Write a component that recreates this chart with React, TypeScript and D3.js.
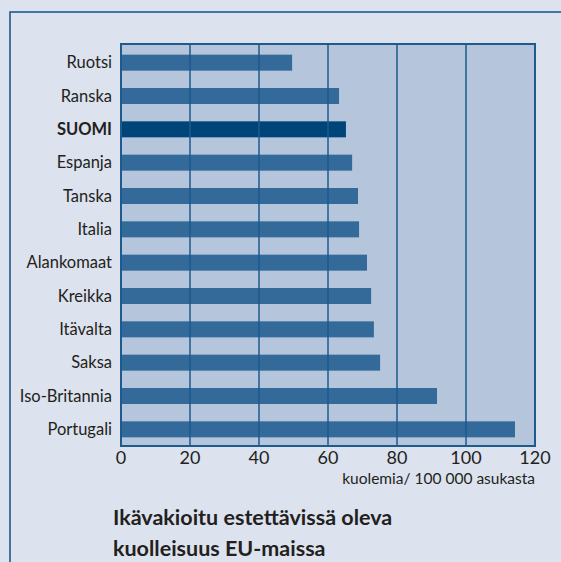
import { useEffect, useRef } from "react";
import * as d3 from "d3";

const countries = [
  "Ruotsi",
  "Ranska",
  "SUOMI",
  "Espanja",
  "Tanska",
  "Italia",
  "Alankomaat",
  "Kreikka",
  "Itävalta",
  "Saksa",
  "Iso-Britannia",
  "Portugali",
];
const rates = [49.6, 63.2, 65.2, 67, 68.7, 69, 71.3, 72.5, 73.3, 75.1, 91.6, 114.2];
const highlight = "SUOMI";
const xTicks = [0, 20, 40, 60, 80, 100, 120];
const unitLabel = "kuolemia/ 100 000 asukasta";
const titleLines = ["Ikävakioitu estettävissä oleva", "kuolleisuus EU-maissa"];

const W = 561;
const H = 562;
const FONT = "Lato, 'Open Sans', sans-serif";

export default function App() {
  const svgRef = useRef<SVGSVGElement>(null);

  useEffect(() => {
    const svg = d3.select(svgRef.current);
    svg.selectAll("*").remove();

    const plot = { left: 121, right: 535, top: 44, bottom: 446 };

    const x = d3.scaleLinear().domain([0, 120]).range([plot.left, plot.right]);
    const y = d3
      .scaleBand<string>()
      .domain(countries)
      .range([plot.top + 2, plot.bottom])
      .paddingInner(0.52)
      .paddingOuter(0.26);

    // page + frame
    svg.append("rect").attr("width", W).attr("height", H).attr("fill", "#dce2ee");
    svg
      .append("rect")
      .attr("x", 10)
      .attr("y", 12)
      .attr("width", W + 20)
      .attr("height", H + 20)
      .attr("fill", "none")
      .attr("stroke", "#1d5a8e")
      .attr("stroke-width", 1.6);

    // plot background
    svg
      .append("rect")
      .attr("x", plot.left)
      .attr("y", plot.top)
      .attr("width", plot.right - plot.left)
      .attr("height", plot.bottom - plot.top)
      .attr("fill", "#b5c5dc");

    // bars
    svg
      .append("g")
      .selectAll("rect")
      .data(countries)
      .enter()
      .append("rect")
      .attr("x", x(0))
      .attr("y", (d) => y(d) || 0)
      .attr("width", (_d, i) => x(rates[i]) - x(0))
      .attr("height", y.bandwidth())
      .attr("fill", (d) => (d === highlight ? "#00457a" : "#336a99"));

    // grid lines
    svg
      .append("g")
      .selectAll("line")
      .data(xTicks.slice(1, -1))
      .enter()
      .append("line")
      .attr("x1", (d) => x(d))
      .attr("x2", (d) => x(d))
      .attr("y1", plot.top)
      .attr("y2", plot.bottom)
      .attr("stroke", "#1d5a8e")
      .attr("stroke-width", 1.5);

    // plot frame
    svg
      .append("rect")
      .attr("x", plot.left)
      .attr("y", plot.top)
      .attr("width", plot.right - plot.left)
      .attr("height", plot.bottom - plot.top)
      .attr("fill", "none")
      .attr("stroke", "#1d5a8e")
      .attr("stroke-width", 2);

    // country labels
    svg
      .append("g")
      .selectAll("text")
      .data(countries)
      .enter()
      .append("text")
      .attr("x", 112)
      .attr("y", (d) => (y(d) || 0) + y.bandwidth() / 2)
      .attr("dy", "0.35em")
      .attr("text-anchor", "end")
      .attr("font-family", FONT)
      .attr("font-size", 16.5)
      .attr("font-weight", (d) => (d === highlight ? 700 : 400))
      .attr("fill", "#231f20")
      .text((d) => d);

    // x tick labels
    svg
      .append("g")
      .selectAll("text")
      .data(xTicks)
      .enter()
      .append("text")
      .attr("x", (d) => x(d))
      .attr("y", 464)
      .attr("text-anchor", "middle")
      .attr("font-family", FONT)
      .attr("font-size", 18)
      .attr("fill", "#231f20")
      .text((d) => d);

    svg
      .append("text")
      .attr("x", plot.right)
      .attr("y", 484)
      .attr("text-anchor", "end")
      .attr("font-family", FONT)
      .attr("font-size", 15.5)
      .attr("fill", "#231f20")
      .text(unitLabel);

    // title
    svg
      .append("g")
      .selectAll("text")
      .data(titleLines)
      .enter()
      .append("text")
      .attr("x", 113)
      .attr("y", (_d, i) => 525 + i * 31)
      .attr("font-family", FONT)
      .attr("font-size", 21.5)
      .attr("font-weight", 700)
      .attr("fill", "#231f20")
      .text((d) => d);
  }, []);

  return (
    <svg
      ref={svgRef}
      width={W}
      height={H}
      style={{ position: "absolute", left: 0, top: 0, display: "block" }}
    />
  );
}
